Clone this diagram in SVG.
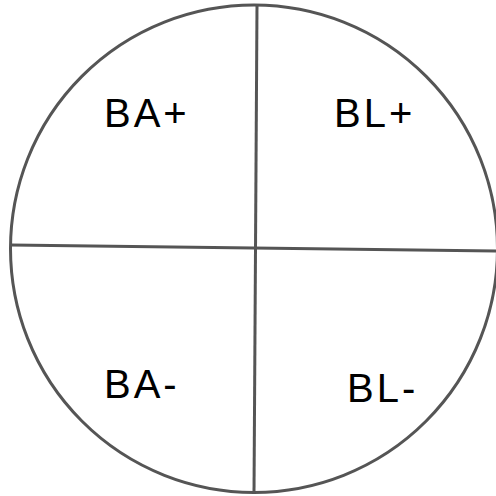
<svg xmlns="http://www.w3.org/2000/svg" width="496" height="496" viewBox="0 0 496 496">
<style>
.ln{fill:none;stroke:#555555;stroke-width:3}
.lb{font-family:"Liberation Sans",Arial,sans-serif;font-size:40px;fill:#000000}
</style>
<rect width="496" height="496" fill="#ffffff"/>
<g id="circle"><ellipse class="ln" cx="254" cy="248.7" rx="243.5" ry="243.7"/></g>
<g id="connectors">
<line class="ln" x1="11" y1="245" x2="496" y2="251"/>
<line class="ln" x1="257" y1="5" x2="254" y2="492"/>
</g>
<g id="ba-plus"><text class="lb" x="104" y="127" letter-spacing="3">BA+</text></g>
<g id="bl-plus"><text class="lb" x="334" y="127" letter-spacing="3">BL+</text></g>
<g id="ba-minus"><text class="lb" x="104" y="398" letter-spacing="3">BA-</text></g>
<g id="bl-minus"><text class="lb" x="347" y="402" letter-spacing="3">BL-</text></g>
</svg>
